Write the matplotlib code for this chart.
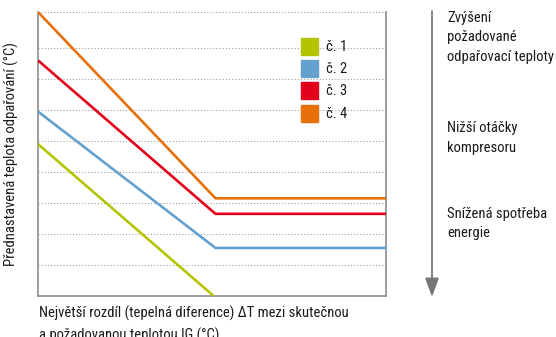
import matplotlib
matplotlib.use("Agg")
import matplotlib.pyplot as plt
from matplotlib.patches import Rectangle

plt.rcParams['font.family'] = ['Roboto Condensed', 'DejaVu Sans']

# Schematic curves: (x, y) break points for each setting
series_names = ["č. 1", "č. 2", "č. 3", "č. 4"]
series_colors = ["#b4c400", "#64a1cf", "#e3001b", "#e8700a"]
x_knee = 5.1
x_end = 10.0
s1_x = [0.0, 5.05]
s1_y = [4.9, 0.0]
s2_x = [0.0, x_knee, x_end]
s2_y = [5.95, 1.55, 1.55]
s3_x = [0.0, x_knee, x_end]
s3_y = [7.6, 2.65, 2.65]
s4_x = [0.0, x_knee, x_end]
s4_y = [9.16, 3.15, 3.15]
grid_levels = [1, 2, 3, 4, 5, 6, 7, 8, 9.16]
y_top = 9.16

side_notes = ["Zvýšení\npožadované\nodpařovací teploty",
              "Nižší otáčky\nkompresoru",
              "Snížená spotřeba\nenergie"]
x_label = "Největší rozdíl (tepelná diference) ΔT mezi skutečnou\na požadovanou teplotou IG (°C)"
y_label = "Přednastavená teplota odpařování (°C)"

W, H = 556, 337
fs = 10.5
fig = plt.figure(figsize=(W / 100, H / 100), dpi=100)
ax = fig.add_axes([38 / W, 1 - 296 / H, (386 - 38) / W, (296 - 12) / H])
ax.set_xlim(0, x_end)
ax.set_ylim(0, y_top)

for lvl in grid_levels:
    ax.axhline(lvl, color="#9a9a9a", lw=0.75, ls=(0, (1, 2)), clip_on=False, zorder=1)

xs = [s1_x, s2_x, s3_x, s4_x]
ys = [s1_y, s2_y, s3_y, s4_y]
for x, y, c in zip(xs, ys, series_colors):
    ax.plot(x, y, color=c, lw=1.9, solid_capstyle="butt", zorder=3)

ax.set_xticks([])
ax.set_yticks([])
ax.spines["top"].set_visible(False)
for side in ["left", "bottom", "right"]:
    ax.spines[side].set_color("#8c8c8c")
    ax.spines[side].set_linewidth(1.2)

# Legend as coloured squares with labels
for i, (name, c) in enumerate(zip(series_names, series_colors)):
    top = 38 + i * 22.2
    fig.patches.append(Rectangle((301 / W, 1 - (top + 17) / H), 17 / W, 17 / H,
                                 transform=fig.transFigure, color=c, zorder=5))
    fig.text(326 / W, 1 - (top + 9) / H, name, fontsize=fs, va="center",
             ha="left", color="#1a1a1a")

ax.set_ylabel(y_label, fontsize=fs, color="#1a1a1a")
ax.yaxis.set_label_coords(-19 / (386 - 38), 0.5)
fig.text(39 / W, 1 - 306 / H, x_label, fontsize=fs, va="top", ha="left",
         color="#1a1a1a", linespacing=1.5)

# Downward arrow with notes
ax.annotate("", xy=(432 / W, 1 - 297 / H), xytext=(432 / W, 1 - 11 / H),
            xycoords="figure fraction", textcoords="figure fraction",
            arrowprops=dict(arrowstyle="-|>,head_length=1.15,head_width=0.42",
                            color="#777777", lw=1.3, shrinkA=0, shrinkB=0),
            fontsize=10)
for note, ytop in zip(side_notes, [11, 121, 207]):
    fig.text(447 / W, 1 - ytop / H, note, fontsize=fs, va="top", ha="left",
             color="#1a1a1a", linespacing=1.5)

fig.savefig("out.png", dpi=100)
